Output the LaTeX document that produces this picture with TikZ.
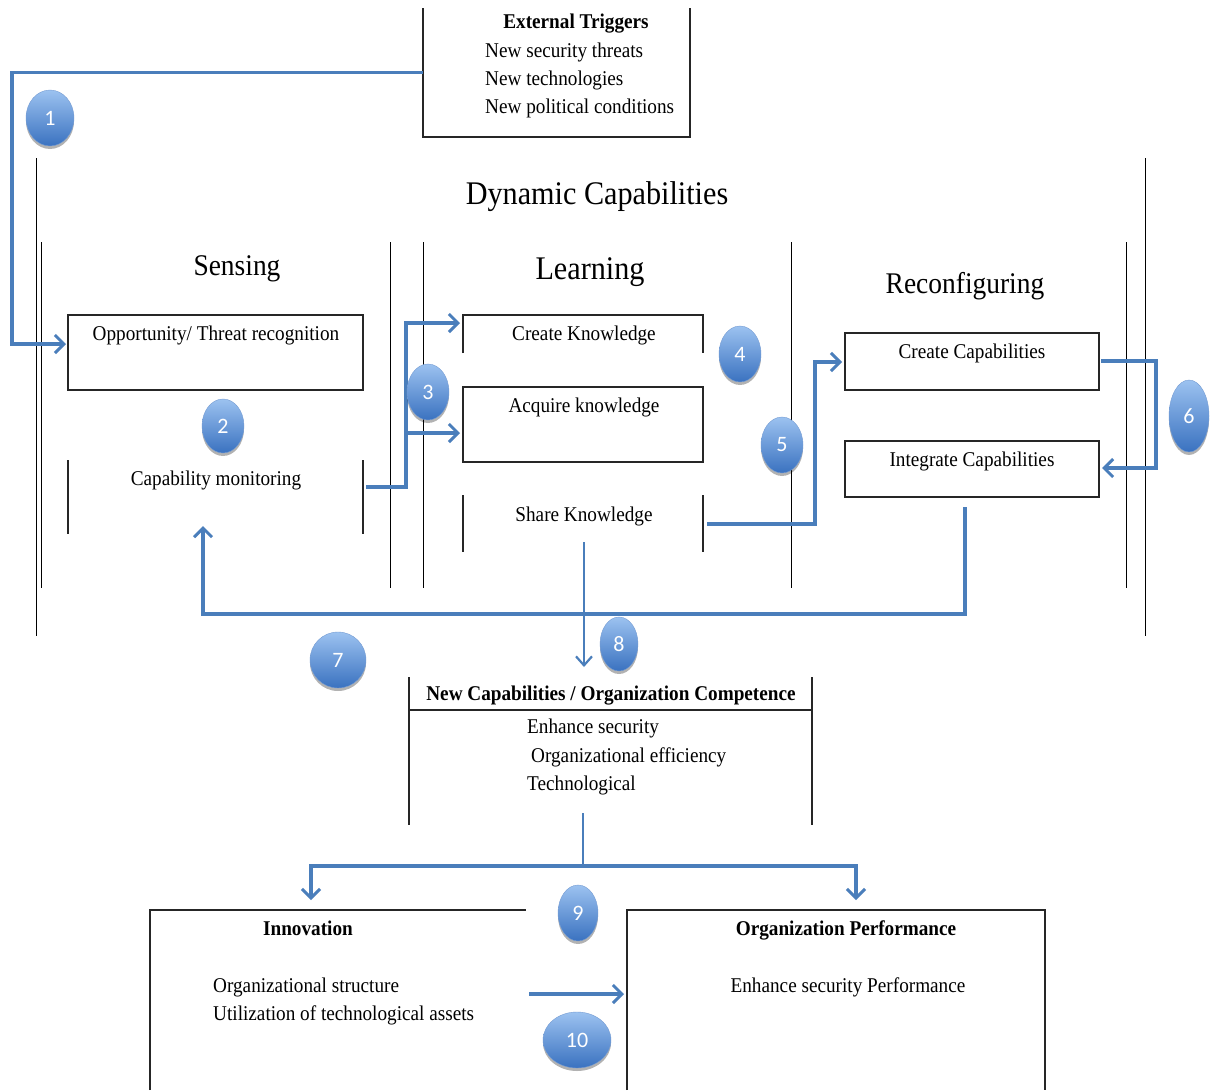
\documentclass[tikz,border=0pt]{standalone}
\usepackage{fontspec}
\setmainfont{Liberation Serif}[FakeStretch=0.915]
\newfontfamily\numfont{Carlito}
\usetikzlibrary{arrows.meta,shapes.geometric,shadows,calc}

\definecolor{flowblue}{HTML}{4A7EBB}
\definecolor{balltop}{HTML}{9CC2F0}
\definecolor{ballbot}{HTML}{3A72C0}
\definecolor{rule}{HTML}{262626}

\tikzset{
  slot/.style={rectangle, inner sep=0pt, outer sep=0pt},
  frame/.style={draw=rule, line width=1.2pt},
  divider/.style={draw=black, line width=0.9pt},
  flow/.style={draw=flowblue, line width=3.4pt,
    -{Straight Barb[length=9pt,width=18pt,line width=3pt]}},
  flowthin/.style={draw=flowblue, line width=2.2pt,
    -{Straight Barb[length=9pt,width=16pt,line width=2.2pt]}},
  ball/.style={ellipse, inner sep=0pt, top color=balltop, bottom color=ballbot,
    draw=ballbot!70!white, line width=0.4pt, text=white,
    font=\numfont\fontsize{22}{22}\selectfont,
    drop shadow={shadow xshift=0pt, shadow yshift=-3pt, opacity=0.3, fill=black}},
  txt/.style={anchor=base, inner sep=0pt, font=\fontsize{21}{25}\selectfont},
  txtw/.style={anchor=base west, inner sep=0pt, font=\fontsize{21}{25}\selectfont},
  hdr/.style={anchor=base, inner sep=0pt, font=\bfseries\fontsize{21}{25}\selectfont},
}

\begin{document}
\begin{tikzpicture}[x=1pt,y=-1pt]
\useasboundingbox (0,0) rectangle (1210,1090);
\fill[white] (0,0) rectangle (1210,1090);

% ---- external triggers (frame open at the top)
\node[slot, minimum width=267pt, minimum height=129pt] (ext) at (556.5,72.5) {};
\draw[frame] (ext.north west) -- (ext.south west) -- (ext.south east) -- (ext.north east);
\node[hdr] (extT) at (576,28) {External Triggers};
\node[txtw] (ext1) at (485,57) {New security threats};
\node[txtw] (ext2) at (485,85) {New technologies};
\node[txtw] (ext3) at (485,113) {New political conditions};

% ---- dynamic capabilities frame
\draw[divider] (36,158) -- (36,636);
\draw[divider] (1145,158) -- (1145,636);
\foreach \xx in {41,390,423,791,1126} \draw[divider] (\xx,242) -- (\xx,588);
\node[txt, font=\fontsize{33}{36}\selectfont] (dyn) at (597,204) {Dynamic Capabilities};
\node[txt, font=\fontsize{30}{34}\selectfont] (sen) at (237,275) {Sensing};
\node[txt, font=\fontsize{33}{36}\selectfont] (lea) at (590,279) {Learning};
\node[txt, font=\fontsize{30}{34}\selectfont] (rec) at (965,293) {Reconfiguring};

% ---- sensing
\node[slot, frame, minimum width=295pt, minimum height=75pt] (opp) at (215.5,352.5) {};
\node[txt] (oppT) at (216,340) {Opportunity/ Threat recognition};
\node[slot, minimum width=295pt, minimum height=74pt] (cap) at (215.5,497) {};
\draw[frame] (cap.north west) -- (cap.south west) (cap.north east) -- (cap.south east);
\node[txt] (capT) at (216,485) {Capability monitoring};

% ---- learning
\node[slot, minimum width=240pt, minimum height=38pt] (ck) at (583,334) {};
\draw[frame] (ck.south west) -- (ck.north west) -- (ck.north east) -- (ck.south east);
\node[txt] (ckT) at (584,340) {Create Knowledge};
\node[slot, frame, minimum width=240pt, minimum height=75pt] (ak) at (583,424.5) {};
\node[txt] (akT) at (584,412) {Acquire knowledge};
\node[slot, minimum width=240pt, minimum height=57pt] (sk) at (583,523.5) {};
\draw[frame] (sk.north west) -- (sk.south west) (sk.north east) -- (sk.south east);
\node[txt] (skT) at (584,521) {Share Knowledge};

% ---- reconfiguring
\node[slot, frame, minimum width=254pt, minimum height=57pt] (cc) at (972,361.5) {};
\node[txt] (ccT) at (972,358) {Create Capabilities};
\node[slot, frame, minimum width=254pt, minimum height=56pt] (ic) at (972,469) {};
\node[txt] (icT) at (972,466) {Integrate Capabilities};

% ---- new capabilities
\node[slot, minimum width=403pt, minimum height=148pt] (nc) at (610.5,751) {};
\draw[frame] (nc.north west) -- (nc.south west) (nc.north east) -- (nc.south east);
\draw[frame, line width=1.7pt] ($(nc.north west)+(0,33)$) -- ($(nc.north east)+(0,33)$);
\node[hdr] (ncT) at (611,700) {New Capabilities / Organization Competence};
\node[txtw] (nc1) at (527,733) {Enhance security};
\node[txtw] (nc2) at (531,762) {Organizational efficiency};
\node[txtw] (nc3) at (527,790) {Technological};

% ---- innovation and performance
\node[slot, minimum width=376pt, minimum height=180pt] (inn) at (338,1000) {};
\draw[frame] (inn.south west) -- (inn.north west) -- (inn.north east);
\node[hdr] (innT) at (308,935) {Innovation};
\node[txtw] (inn1) at (213,992) {Organizational structure};
\node[txtw] (inn2) at (213,1020) {Utilization of technological assets};
\node[slot, minimum width=418pt, minimum height=180pt] (perf) at (836,1000) {};
\draw[frame] (perf.south west) -- (perf.north west) -- (perf.north east) -- (perf.south east);
\node[hdr] (perfT) at (846,935) {Organization Performance};
\node[txt] (perf1) at (848,992) {Enhance security Performance};

% ---- connectors
\draw[flow] (ext.west) -| (12,344) -- ($(opp.west)+(-2,-8.5)$);
\draw[flow] ($(cap.east)+(3,-10)$) -| (406,323) -- ($(ck.west)+(-3,-11)$);
\draw[flow] (406,433) -- ($(ak.west)+(-3,8.5)$);
\draw[flow] ($(sk.east)+(4,0.5)$) -| (815,362) -- ($(cc.west)+(-3,0.5)$);
\draw[flow] ($(cc.east)+(2,-0.5)$) -| (1156,468) -- ($(ic.east)+(3,-1)$);
\draw[flow] ($(ic.south)+(-7,10)$) |- (203,614) -- ($(cap.south)+(-12.5,-8)$);
\draw[flowthin] ($(sk.south)+(1,-10)$) -- ($(nc.north)+(-26.5,-10)$);
\draw[draw=flowblue, line width=2.4pt] ($(nc.south)+(-27.5,-12)$) -- (583,866);
\draw[flow] (583,866) -| ($(inn.north west)+(161,-10)$);
\draw[flow] (583,866) -| ($(perf.north west)+(229,-10)$);
\draw[flow] ($(inn.east)+(3,-6)$) -- ($(perf.west)+(-3,-6)$);

% ---- numbered markers
\node[ball, minimum width=48pt, minimum height=56pt] (b1) at (50,118) {1};
\node[ball, minimum width=42pt, minimum height=54pt] (b2) at (223,426) {2};
\node[ball, minimum width=42pt, minimum height=56pt] (b3) at (428,392) {3};
\node[ball, minimum width=42pt, minimum height=56pt] (b4) at (740,354) {4};
\node[ball, minimum width=42pt, minimum height=56pt] (b5) at (782,445) {5};
\node[ball, minimum width=40pt, minimum height=72pt] (b6) at (1189,416) {6};
\node[ball, minimum width=56pt, minimum height=56pt] (b7) at (338,660) {7};
\node[ball, minimum width=38pt, minimum height=54pt] (b8) at (619,644) {8};
\node[ball, minimum width=40pt, minimum height=56pt] (b9) at (578,913) {9};
\node[ball, minimum width=68pt, minimum height=56pt] (b10) at (577,1040) {10};
\end{tikzpicture}
\end{document}
